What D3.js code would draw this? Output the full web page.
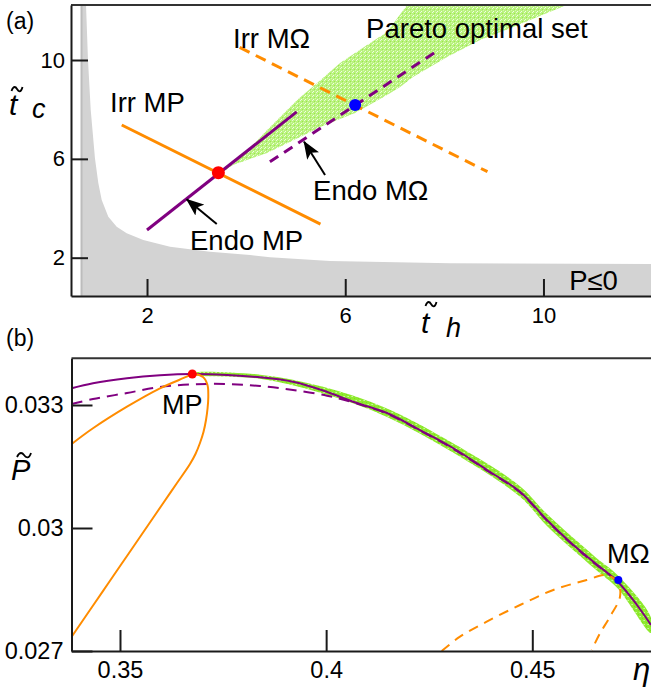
<!DOCTYPE html>
<html>
<head>
<meta charset="utf-8">
<script src="https://cdn.jsdelivr.net/npm/d3@7"></script>
<style>
  body { margin: 0; background: #fff; }
  text { font-family: "Liberation Sans", Arial, sans-serif; fill: #000; }
</style>
</head>
<body>
<div id="chart"></div>
<script>
// ---------- Panel (a): plane (t_h, t_c) ----------
const aTicksX = [2, 6, 10];
const aTicksY = [2, 6, 10];

// edge of the P<=0 region
const noPowerEdge = [
  [0.678, 12.23], [0.769, 12.23], [0.809, 10.0], [0.864, 7.98], [0.950, 6.01], [1.017, 5.02],
  [1.086, 4.33], [1.219, 3.66], [1.388, 3.25], [1.590, 2.99], [1.925, 2.72], [2.464, 2.44],
  [3.272, 2.24], [4.079, 2.11], [4.483, 2.02], [5.694, 1.87], [8.116, 1.78], [12.17, 1.74]
];

// Pareto optimal set, outline of the cloud
const paretoA = [
  [3.433, 5.467], [4.079, 6.44], [4.422, 7.17], [5.028, 8.38], [5.432, 9.07], [5.896, 9.88],
  [6.441, 10.61], [6.845, 11.13], [7.248, 12.23], [10.478, 12.23], [10.074, 11.90], [9.388, 11.34],
  [8.722, 10.81], [8.056, 10.12], [7.369, 9.31], [7.107, 8.91], [6.845, 8.58], [6.199, 7.86],
  [5.492, 7.29], [5.088, 6.88], [4.422, 6.24], [3.736, 5.75], [3.433, 5.34]
];

const endoMP = [[2.0, 3.12], [5.02, 7.90]];
const irrMP = [[1.49, 7.37], [5.50, 3.36]];
const endoMO = [[4.48, 5.88], [7.90, 10.43]];
const irrMO = [[3.87, 10.51], [8.87, 5.48]];
const mpA = [3.44, 5.44];
const moA = [6.20, 8.18];

// ---------- Panel (b): plane (eta, P) ----------
const bTicksX = [0.35, 0.4, 0.45];
const bTicksY = [0.027, 0.03, 0.033];

const endoFrontSolid = [
  [0.33829, 0.033407], [0.34345, 0.033529], [0.35170, 0.033651], [0.35970, 0.033724],
  [0.36754, 0.033756], [0.37595, 0.033732], [0.38396, 0.033676], [0.39196, 0.033568],
  [0.39924, 0.033354], [0.40651, 0.033080], [0.41476, 0.032805], [0.42276, 0.032390],
  [0.43077, 0.031951], [0.43901, 0.031415], [0.44702, 0.030885], [0.45356, 0.030195],
  [0.45914, 0.029659], [0.46520, 0.029146], [0.47078, 0.028683], [0.47539, 0.028122],
  [0.47879, 0.027634]
];

const endoFrontDashed = [
  [0.33829, 0.033024], [0.34345, 0.033146], [0.35170, 0.033293], [0.35970, 0.033439],
  [0.36771, 0.033505], [0.37595, 0.033512], [0.38396, 0.033463], [0.39196, 0.033366],
  [0.40021, 0.033227], [0.40651, 0.033061], [0.41476, 0.032790], [0.42276, 0.032375],
  [0.43077, 0.031935], [0.43901, 0.031400], [0.44702, 0.030870], [0.45356, 0.030180],
  [0.45914, 0.029645], [0.46520, 0.029130], [0.47086, 0.028700]
];

// green band (Pareto set in the eta-P plane): upper edge then lower edge
const paretoB = [
  [0.36746, 0.033780], [0.38396, 0.033740], [0.39924, 0.033445], [0.41476, 0.032915],
  [0.43077, 0.032065], [0.44702, 0.031020], [0.45356, 0.030340], [0.46520, 0.029300],
  [0.47078, 0.028840], [0.47879, 0.027820],
  [0.47879, 0.027440], [0.47078, 0.028520], [0.46520, 0.029000], [0.45356, 0.030050],
  [0.44702, 0.030760], [0.43077, 0.031840], [0.41476, 0.032710], [0.39924, 0.033280],
  [0.38396, 0.033640], [0.36746, 0.033744]
];

const irrLoopMP = [
  [0.33829, 0.032049], [0.34345, 0.032432], [0.35170, 0.032959], [0.35970, 0.033407],
  [0.36618, 0.033690], [0.36754, 0.033756], [0.37013, 0.033683], [0.37122, 0.033488],
  [0.37142, 0.033195], [0.37125, 0.032927], [0.37086, 0.032634], [0.37025, 0.032341],
  [0.36940, 0.032073], [0.36831, 0.031805], [0.36698, 0.031561], [0.36366, 0.031073],
  [0.36033, 0.030585], [0.35701, 0.030098], [0.35369, 0.029610], [0.35036, 0.029122],
  [0.34704, 0.028634], [0.34372, 0.028146], [0.34040, 0.027659], [0.33824, 0.027341]
];

const irrLoopMO = [
  [0.42803, 0.027000], [0.43246, 0.027349], [0.43894, 0.027715], [0.44702, 0.028122],
  [0.45509, 0.028488], [0.46319, 0.028732], [0.46763, 0.028854], [0.46965, 0.028780],
  [0.47086, 0.028683], [0.47127, 0.028324], [0.46885, 0.027837], [0.46642, 0.027432],
  [0.46441, 0.027024]
];

const mpB = [0.36754, 0.033756];
const moB = [0.47086, 0.028732];

// colours
const PURPLE = "#800080", ORANGE = "#ff8c00";

const W = 651, H = 690;
const svg = d3.select("#chart").append("svg")
  .attr("width", W).attr("height", H);

const defs = svg.append("defs");

// speckled green for the Pareto cloud (light for panel a, brighter for panel b)
function speckle(id, base, dots) {
  const p = defs.append("pattern").attr("id", id)
    .attr("width", 4).attr("height", 4).attr("patternUnits", "userSpaceOnUse");
  p.append("rect").attr("width", 4).attr("height", 4).attr("fill", base);
  dots.forEach(d => p.append("rect").attr("x", d[0]).attr("y", d[1])
    .attr("width", 1).attr("height", 1).attr("fill", d[2]));
}
speckle("speckleA", "#b9f27e", [[0, 0, "#eafcd8"], [2, 1, "#9be84e"], [1, 3, "#f2fde6"], [3, 2, "#d6f8b2"]]);
speckle("speckleB", "#8fea2e", [[0, 0, "#c8f79a"], [2, 2, "#7cdc20"], [3, 0, "#b3f27a"]]);

// arrow head
defs.append("marker").attr("id", "head")
  .attr("markerUnits", "userSpaceOnUse")
  .attr("viewBox", "0 0 18 14").attr("refX", 17).attr("refY", 7)
  .attr("markerWidth", 18).attr("markerHeight", 14).attr("orient", "auto")
  .append("path").attr("d", "M0,0 L18,7 L0,14 L4,7 Z").attr("fill", "#000");

// ================= Panel (a) =================
const ax = d3.scaleLinear().domain([0.466, 12.17]).range([71, 651]);
const ay = d3.scaleLinear().domain([0.45, 12.226]).range([296, 5]);
const aLine = d3.line().x(d => ax(d[0])).y(d => ay(d[1]));

defs.append("clipPath").attr("id", "clipA").append("rect")
  .attr("x", 71).attr("y", 5).attr("width", 580).attr("height", 291);

const ga = svg.append("g").attr("clip-path", "url(#clipA)");

// P<=0 region
const grayPoly = noPowerEdge.concat([[12.17, 0.45], [0.678, 0.45]]);
ga.append("path").attr("d", aLine(grayPoly) + "Z").attr("fill", "#d3d3d3");
ga.append("line")
  .attr("x1", ax(0.678)).attr("x2", ax(0.678))
  .attr("y1", ay(12.226)).attr("y2", ay(0.45))
  .attr("stroke", "#bcbcbc").attr("stroke-width", 2);

// Pareto cloud
ga.append("path").attr("d", aLine(paretoA) + "Z").attr("fill", "url(#speckleA)");

// optimisation lines
ga.append("path").attr("d", aLine(irrMP)).attr("stroke", ORANGE).attr("stroke-width", 3).attr("fill", "none");
ga.append("path").attr("d", aLine(endoMP)).attr("stroke", PURPLE).attr("stroke-width", 3).attr("fill", "none");
ga.append("path").attr("d", aLine(irrMO)).attr("stroke", ORANGE).attr("stroke-width", 3)
  .attr("stroke-dasharray", "11,7").attr("fill", "none");
ga.append("path").attr("d", aLine(endoMO)).attr("stroke", PURPLE).attr("stroke-width", 3)
  .attr("stroke-dasharray", "10,7").attr("fill", "none");

ga.append("circle").attr("cx", ax(mpA[0])).attr("cy", ay(mpA[1])).attr("r", 6.5).attr("fill", "#ff0000");
ga.append("circle").attr("cx", ax(moA[0])).attr("cy", ay(moA[1])).attr("r", 6).attr("fill", "#0000ff");

// arrows
const arrowsA = [
  { tail: [3.407, 3.363], tip: [2.801, 4.363] },
  { tail: [5.593, 5.346], tip: [5.169, 6.694] }
];
ga.selectAll(".arrow").data(arrowsA).enter().append("line")
  .attr("x1", d => ax(d.tail[0])).attr("y1", d => ay(d.tail[1]))
  .attr("x2", d => ax(d.tip[0])).attr("y2", d => ay(d.tip[1]))
  .attr("stroke", "#000").attr("stroke-width", 2).attr("marker-end", "url(#head)");

// annotations
const labelsA = [
  { t: "Irr MP", p: [1.253, 7.896] },
  { t: "Irr MΩ", p: [3.736, 10.486] },
  { t: "Pareto optimal set", p: [6.421, 10.890] },
  { t: "Endo MΩ", p: [5.351, 4.334] },
  { t: "Endo MP", p: [2.868, 2.311] },
  { t: "P≤0", p: [10.518, 0.692] }
];
ga.selectAll(".lab").data(labelsA).enter().append("text")
  .attr("x", d => ax(d.p[0])).attr("y", d => ay(d.p[1]))
  .attr("font-size", 27.5).text(d => d.t);

// axes
const axA = svg.append("g");
axA.append("line").attr("x1", 71).attr("x2", 651).attr("y1", 5).attr("y2", 5)
  .attr("stroke", "#333").attr("stroke-width", 2);
const aLeft = axA.append("g").attr("transform", "translate(71,0)")
  .call(d3.axisLeft(ay).tickValues(aTicksY).tickSize(-17).tickSizeOuter(0).tickPadding(6));
const aBottom = axA.append("g").attr("transform", "translate(0,296)")
  .call(d3.axisBottom(ax).tickValues(aTicksX).tickSize(-17).tickSizeOuter(0).tickPadding(11));
[aLeft, aBottom].forEach(g => {
  g.selectAll("path, line").attr("stroke", "#1a1a1a").attr("stroke-width", 2);
  g.selectAll("text").attr("font-size", 22).attr("font-family", "Liberation Sans, Arial, sans-serif");
});

// ================= Panel (b) =================
const bx = d3.scaleLinear().domain([0.33824, 0.47879]).range([71.5, 651]);
const by = d3.scaleLinear().domain([0.027, 0.034139]).range([651, 358.3]);
const bLine = d3.line().curve(d3.curveCatmullRom).x(d => bx(d[0])).y(d => by(d[1]));
const bPoly = d3.line().curve(d3.curveCatmullRomClosed).x(d => bx(d[0])).y(d => by(d[1]));

defs.append("clipPath").attr("id", "clipB").append("rect")
  .attr("x", 71.5).attr("y", 358.3).attr("width", 580).attr("height", 292.7);

const gb = svg.append("g").attr("clip-path", "url(#clipB)");

gb.append("path").attr("d", bPoly(paretoB)).attr("fill", "url(#speckleB)");

gb.append("path").attr("d", bLine(endoFrontSolid)).attr("stroke", PURPLE)
  .attr("stroke-width", 2).attr("fill", "none");
gb.append("path").attr("d", bLine(endoFrontDashed)).attr("stroke", PURPLE)
  .attr("stroke-width", 2).attr("stroke-dasharray", "11,7").attr("fill", "none");
gb.append("path").attr("d", bLine(irrLoopMP)).attr("stroke", ORANGE)
  .attr("stroke-width", 2).attr("fill", "none");
gb.append("path").attr("d", bLine(irrLoopMO)).attr("stroke", ORANGE)
  .attr("stroke-width", 2).attr("stroke-dasharray", "10,7").attr("fill", "none");

gb.append("circle").attr("cx", bx(mpB[0])).attr("cy", by(mpB[1])).attr("r", 4.5).attr("fill", "#ff0000");
gb.append("circle").attr("cx", bx(moB[0])).attr("cy", by(moB[1])).attr("r", 4).attr("fill", "#0000ff");

const labelsB = [
  { t: "MP", p: [0.36019, 0.032780] },
  { t: "MΩ", p: [0.46812, 0.029146] }
];
gb.selectAll(".lab").data(labelsB).enter().append("text")
  .attr("x", d => bx(d.p[0])).attr("y", d => by(d.p[1]))
  .attr("font-size", 27).text(d => d.t);

const axB = svg.append("g");
axB.append("line").attr("x1", 71.5).attr("x2", 651).attr("y1", 358.3).attr("y2", 358.3)
  .attr("stroke", "#333").attr("stroke-width", 2);
const bLeft = axB.append("g").attr("transform", "translate(71.5,0)")
  .call(d3.axisLeft(by).tickValues(bTicksY).tickSize(-21).tickSizeOuter(0).tickPadding(8)
    .tickFormat(d3.format("")));
const bBottom = axB.append("g").attr("transform", "translate(0,651)")
  .call(d3.axisBottom(bx).tickValues(bTicksX).tickSize(-21).tickSizeOuter(0).tickPadding(10)
    .tickFormat(d3.format("")));
[bLeft, bBottom].forEach(g => {
  g.selectAll("path, line").attr("stroke", "#1a1a1a").attr("stroke-width", 2);
  g.selectAll("text").attr("font-size", 23.5).attr("font-family", "Liberation Sans, Arial, sans-serif");
});

// ---------- panel tags and axis titles ----------
svg.append("text").attr("x", 6).attr("y", 29).attr("font-size", 23).text("(a)");
svg.append("text").attr("x", 6).attr("y", 346).attr("font-size", 23).text("(b)");

// small wavy tilde drawn as a path
function tilde(cx, cy, w, h) {
  const x0 = cx - w / 2;
  svg.append("path")
    .attr("d", `M${x0},${cy + h / 2} C${x0 + w * 0.2},${cy - h} ${x0 + w * 0.4},${cy - h / 2} ${cx},${cy}` +
      ` S${x0 + w * 0.85},${cy + h * 1.2} ${x0 + w},${cy - h / 2}`)
    .attr("fill", "none").attr("stroke", "#000").attr("stroke-width", 1.8);
}

svg.append("text").attr("x", 9).attr("y", 115).attr("font-size", 30).attr("font-style", "italic").text("t");
svg.append("text").attr("x", 32).attr("y", 118).attr("font-size", 27).attr("font-style", "italic").text("c");
tilde(17, 89, 11, 4);

svg.append("text").attr("x", 421).attr("y", 333).attr("font-size", 30).attr("font-style", "italic").text("t");
svg.append("text").attr("x", 446).attr("y", 337).attr("font-size", 27).attr("font-style", "italic").text("h");
tilde(431, 304, 11, 4);

svg.append("text").attr("x", 11).attr("y", 480).attr("font-size", 29).attr("font-style", "italic").text("P");
tilde(24, 455, 14, 4);

svg.append("text").attr("x", 633).attr("y", 680).attr("font-size", 31)
  .attr("font-style", "italic").text("η");
</script>
</body>
</html>
